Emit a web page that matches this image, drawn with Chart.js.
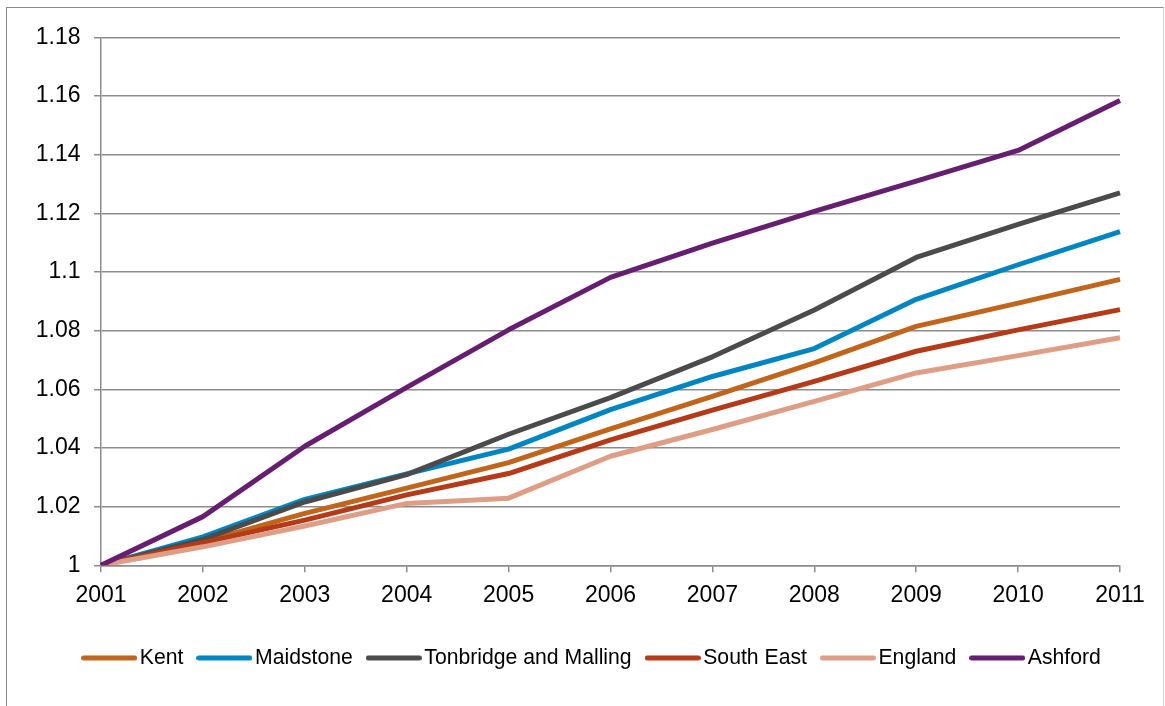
<!DOCTYPE html>
<html>
<head>
<meta charset="utf-8">
<script src="https://cdn.jsdelivr.net/npm/chart.js@4"></script>
<style>
  html, body { margin: 0; padding: 0; background: #ffffff; overflow: hidden; }
  #frame { position: absolute; left: 6px; top: 6.5px; width: 1156px; height: 760px;
           border-left: 1.5px solid #8a8a8a; border-top: 1.5px solid #8a8a8a; border-right: 1px solid #d6d6d6; }
  #c { position: absolute; left: 0; top: 0; }
</style>
</head>
<body>
<div id="frame"></div>
<canvas id="c" width="1165" height="706"></canvas>
<script>
const years = ['2001','2002','2003','2004','2005','2006','2007','2008','2009','2010','2011'];
const seriesNames = ['Kent','Maidstone','Tonbridge and Malling','South East','England','Ashford'];
const kent      = [1, 1.0080, 1.0177, 1.0263, 1.0350, 1.0465, 1.0576, 1.0690, 1.0815, 1.0894, 1.0975];
const maidstone = [1, 1.0097, 1.0225, 1.0312, 1.0396, 1.0531, 1.0644, 1.0739, 1.0907, 1.1025, 1.1138];
const tonbridge = [1, 1.0088, 1.0216, 1.0309, 1.0447, 1.0572, 1.0711, 1.0871, 1.1050, 1.1163, 1.1270];
const southEast = [1, 1.0077, 1.0154, 1.0240, 1.0313, 1.0428, 1.0529, 1.0627, 1.0730, 1.0803, 1.0872];
const england   = [1, 1.0063, 1.0134, 1.0211, 1.0229, 1.0372, 1.0463, 1.0559, 1.0656, 1.0715, 1.0776];
const ashford   = [1, 1.0166, 1.0406, 1.0607, 1.0803, 1.0982, 1.1099, 1.1207, 1.1310, 1.1415, 1.1585];
const yMin = 1, yMax = 1.18, yStep = 0.02;

const colors = ['#C0651B', '#0085C3', '#4B4B4B', '#B43A18', '#DE9D85', '#661E70'];
const allData = [kent, maidstone, tonbridge, southEast, england, ashford];

function legendSample(color) {
  const cv = document.createElement('canvas');
  cv.width = 56; cv.height = 6;
  const g = cv.getContext('2d');
  g.strokeStyle = color; g.lineWidth = 5; g.lineCap = 'round';
  g.beginPath(); g.moveTo(2.5, 3); g.lineTo(53.5, 3); g.stroke();
  return cv;
}

const gridColor = '#8c8c8c';
const legendShift = {
  id: 'legendShift',
  afterLayout(chart) {
    const lg = chart.legend;
    if (!lg) return;
    const dx = 68.2 - lg.left;
    lg.left += dx; lg.right += dx;
  }
};

new Chart(document.getElementById('c'), {
  type: 'line',
  data: {
    labels: years,
    datasets: seriesNames.map((name, i) => ({
      label: name,
      data: allData[i],
      borderColor: colors[i],
      backgroundColor: colors[i],
      borderWidth: 5,
      pointRadius: 0,
      pointHoverRadius: 0,
      pointStyle: legendSample(colors[i]),
      tension: 0,
      fill: false,
      order: seriesNames.length - i,
      borderJoinStyle: 'round'
    }))
  },
  options: {
    responsive: false,
    devicePixelRatio: 1,
    animation: false,
    layout: { padding: { left: 0, right: 45, top: 37.5, bottom: 27.5 } },
    plugins: {
      tooltip: { enabled: false },
      legend: {
        position: 'bottom',
        align: 'start',
        labels: {
          usePointStyle: true,
          pointStyleWidth: 40,
          padding: 21,
          color: '#000000',
          font: { family: '"Liberation Sans", Arial, sans-serif', size: 21.2 },
          sort: (a, b) => a.datasetIndex - b.datasetIndex
        }
      }
    },
    scales: {
      x: {
        type: 'category',
        offset: false,
        afterFit(scale) { scale.height = 61; },
        grid: { display: true, drawOnChartArea: false, drawTicks: true, tickLength: 7, color: gridColor, lineWidth: 1.5 },
        border: { display: true, color: gridColor, width: 1.5 },
        ticks: {
          color: '#000000', padding: 10, maxRotation: 0, autoSkip: false,
          font: { family: '"Liberation Sans", Arial, sans-serif', size: 23 }
        }
      },
      y: {
        min: yMin, max: yMax,
        afterFit(scale) { scale.width = 101; },
        grid: { display: true, drawOnChartArea: true, drawTicks: true, tickLength: 7, color: gridColor, lineWidth: 1.5 },
        border: { display: true, color: gridColor, width: 1.5 },
        ticks: {
          stepSize: yStep, color: '#000000', padding: 13.5,
          font: { family: '"Liberation Sans", Arial, sans-serif', size: 23 },
          callback: (v) => String(parseFloat(Number(v).toFixed(2)))
        }
      }
    }
  },
  plugins: [legendShift]
});
</script>
</body>
</html>
